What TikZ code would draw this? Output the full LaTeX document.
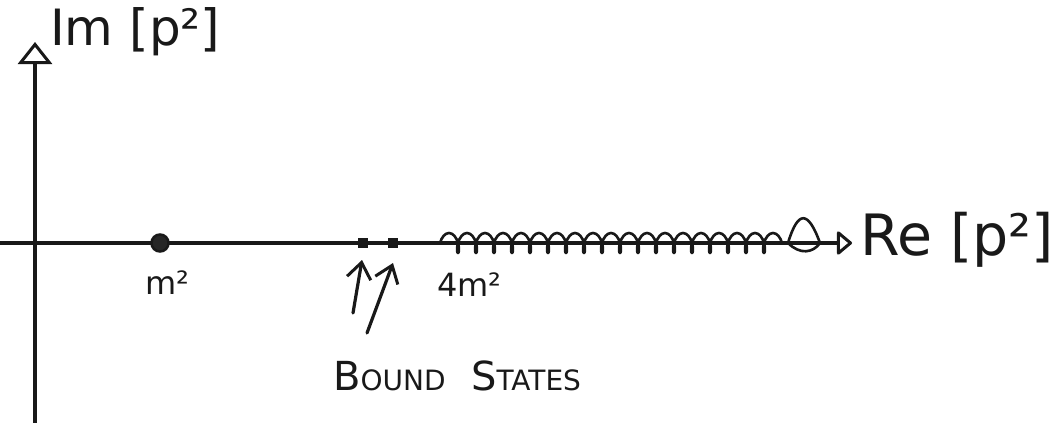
\documentclass[tikz,border=0pt]{standalone}
\usepackage{fontspec}
\setmainfont{DejaVu Sans}
\usetikzlibrary{arrows.meta,decorations.pathmorphing}
\tikzset{
  ink/.style={draw=black!90, line width=3.2pt, line cap=round, line join=round},
  axis/.style={ink, -{Triangle[open,length=22pt,width=34pt,line width=3pt]}},
  raxis/.style={ink, -{Triangle[open,round,length=16pt,width=26pt,line width=3pt]}},
  handarrow/.style={ink, -{Straight Barb[length=16pt,width=24pt,line width=3pt]}},
  lbl/.style={inner sep=0pt, text=black!90},
  cut/.style={ink, line width=2.6pt, decorate, decoration={coil, amplitude=10pt, segment length=18pt, aspect=0.45}},
}
\begin{document}
\begin{tikzpicture}[x=1pt,y=-1pt]
\useasboundingbox (0,0) rectangle (1058,423);
% axes
\coordinate (ybot) at (35,423);
\coordinate (ytop) at (35,42);
\coordinate (xl) at (0,243);
\coordinate (xr) at (852,243);
\draw[axis] (ybot) -- (ytop);
\draw[raxis] (xl) -- (xr);
% labels
\node[lbl, font=\fontsize{50}{50}\selectfont, anchor=west] (im) at (50,32) {Im [p²]};
\node[lbl, font=\fontsize{57}{57}\selectfont, anchor=west] (re) at (860,240) {Re [p²]};
% pole
\node[circle, fill=black!85, draw=black!90, line width=2.5pt, minimum size=17pt, inner sep=0pt] (pole) at (160,243) {};
\node[lbl, font=\fontsize{32}{32}\selectfont] (m2) at (167,283) {m²};
% bound states
\node[fill=black!90, minimum size=10pt, inner sep=0pt] (b1) at (363,243) {};
\node[fill=black!90, minimum size=10pt, inner sep=0pt] (b2) at (393,243) {};
\coordinate (a1s) at (353,313);
\coordinate (a1e) at (362,260);
\coordinate (a2s) at (367,333);
\coordinate (a2e) at (393,263);
\draw[handarrow] (a1s) -- (a1e);
\draw[handarrow] (a2s) -- (a2e);
\node[lbl, font=\fontsize{40}{40}\selectfont, anchor=west] (bs) at (333,376) {B{\fontsize{28}{28}\selectfont OUND}\ \ S{\fontsize{28}{28}\selectfont TATES}};
% threshold and cut
\node[lbl, font=\fontsize{32}{32}\selectfont, anchor=west] (m4) at (437,285) {4m²};
\coordinate (cs) at (440,243);
\coordinate (ce) at (788,243);
\draw[cut] (cs) -- (ce);
\draw[ink, line width=2.6pt] (ce) .. controls (798,210) and (808,210) .. (820,243) .. controls (813,253) and (800,255) .. (ce);
\end{tikzpicture}
\end{document}
